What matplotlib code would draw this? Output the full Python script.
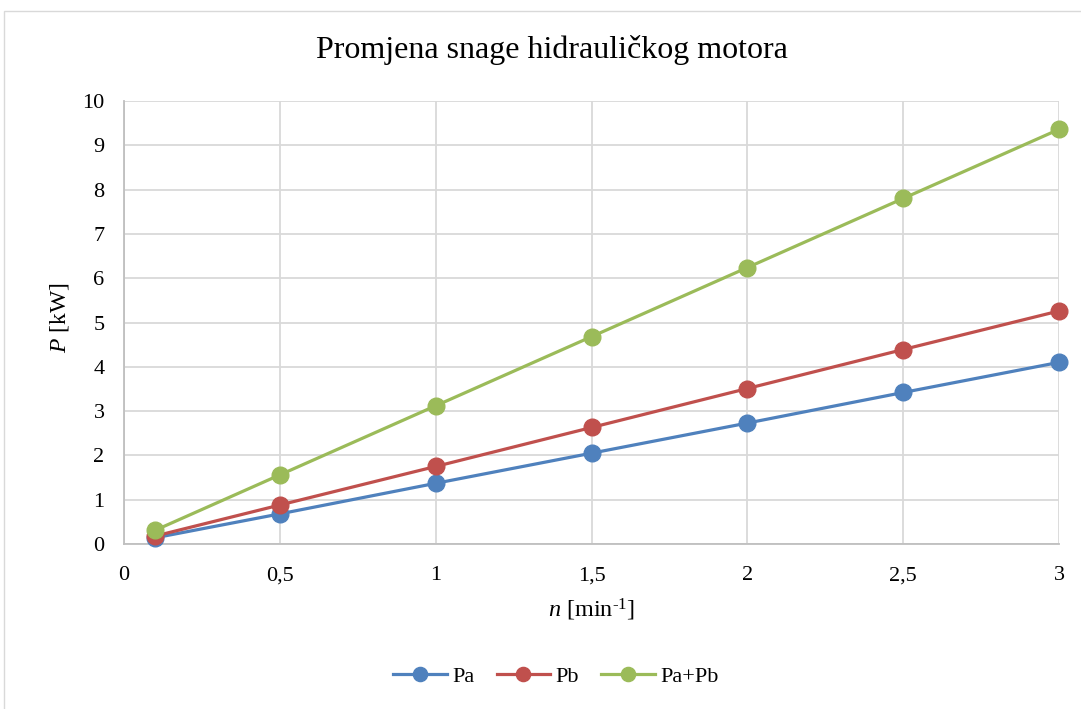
import matplotlib.pyplot as plt
from matplotlib.patches import Rectangle

plt.rcParams['font.family'] = ['Liberation Serif', 'DejaVu Serif']
plt.rcParams['mathtext.fontset'] = 'custom'
plt.rcParams['mathtext.rm'] = 'Liberation Serif'
plt.rcParams['mathtext.it'] = 'Liberation Serif:italic'

n = [0.1, 0.5, 1, 1.5, 2, 2.5, 3]
pa = [0.14, 0.68, 1.37, 2.05, 2.73, 3.42, 4.10]
pb = [0.18, 0.88, 1.75, 2.63, 3.51, 4.39, 5.26]
pab = [0.31, 1.56, 3.12, 4.68, 6.24, 7.80, 9.36]

x_ticks = [0, 0.5, 1, 1.5, 2, 2.5, 3]
x_labels = ['0', '0,5', '1', '1,5', '2', '2,5', '3']
y_ticks = list(range(0, 11))

fig = plt.figure(figsize=(10.81, 7.09), dpi=100)
ax = fig.add_axes([124 / 1081, 1 - 544 / 709, 935 / 1081, 443 / 709])

# chart border like excel
fig.patches.append(Rectangle((4 / 1081, -0.05), 1.1, 1 - 11 / 709 + 0.05,
                             transform=fig.transFigure, fill=False,
                             edgecolor='#d9d9d9', linewidth=1))

series = [(pa, 'Pa', '#4f81bd'), (pb, 'Pb', '#c0504d'), (pab, 'Pa+Pb', '#9bbb59')]
for vals, lab, col in series:
    ax.plot(n, vals, color=col, linewidth=2.3, marker='o', markersize=12,
            label=lab, clip_on=False, zorder=3)

ax.set_xlim(0, 3)
ax.set_ylim(0, 10)
ax.set_xticks(x_ticks)
ax.set_xticklabels(x_labels)
ax.set_yticks(y_ticks)
ax.grid(True, color='#d9d9d9', linewidth=1.3)
ax.set_axisbelow(True)
for s in ['top', 'right']:
    ax.spines[s].set_visible(False)
for s in ['left', 'bottom']:
    ax.spines[s].set_color('#bfbfbf')
    ax.spines[s].set_linewidth(1.3)
ax.tick_params(length=0, labelsize=16, colors='black')
ax.tick_params(axis='x', pad=16)
ax.tick_params(axis='y', pad=14)

fig.text(552 / 1081, 1 - 50 / 709, 'Promjena snage hidrauličkog motora',
         fontsize=23, ha='center', va='center')
ax.set_xlabel(r'$\mathit{n}$ [min$^{\text{-1}}$]', fontsize=17.5)
ax.set_ylabel(r'$\mathit{P}$ [kW]', fontsize=17)
ax.xaxis.set_label_coords(0.5, -0.12)
ax.yaxis.set_label_coords(-0.057, 0.51)

fig.legend(loc='center', bbox_to_anchor=(556 / 1081, 1 - 677 / 709), ncol=3,
           frameon=False, fontsize=16, handlelength=2.4, markerscale=0.85,
           columnspacing=1.0, handletextpad=0.25)

fig.savefig('out.png', dpi=100)
